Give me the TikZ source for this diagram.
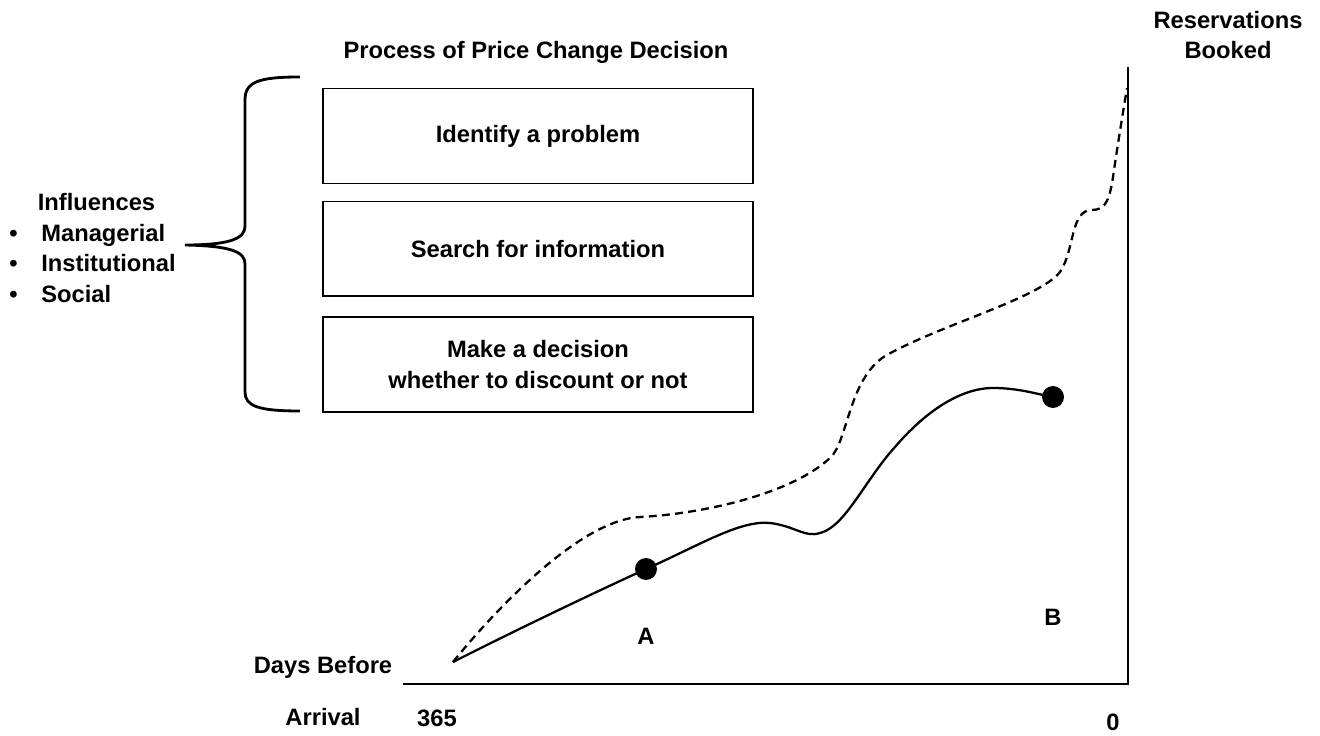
\documentclass[tikz,border=0pt]{standalone}
\usepackage{fontspec}
\setmainfont{Liberation Sans}
\usetikzlibrary{positioning}
\tikzstyle{stepbox} = [rectangle, minimum width=8.6cm, minimum height=1.9cm, text centered, align=center, draw=black, line width=1.1pt]
\tikzstyle{dot} = [circle, fill=black, minimum size=0.44cm, inner sep=0pt]
\tikzstyle{curve} = [line width=1.3pt]
\tikzstyle{axis} = [line width=1.2pt]

\begin{document}
\begin{tikzpicture}[x=0.02cm, y=-0.02cm, node distance=2.26cm, font=\fontsize{13.5}{17.5}\selectfont\bfseries]
    \useasboundingbox (0,0) rectangle (1320,736);
    \node (title) at (536,52) {Process of Price Change Decision};
    \node (identify) [stepbox] at (538,136) {Identify a problem};
    \node (search) [stepbox, below of=identify] {Search for information};
    \node (decide) [stepbox, below of=search, yshift=-0.05cm] {Make a decision\\whether to discount or not};

    \node (influences) [anchor=west, align=left, inner sep=0pt] at (9,248) {\makebox[1.2em][l]{}Influences\\\makebox[1.35em][l]{\textbullet}Managerial\\\makebox[1.35em][l]{\textbullet}Institutional\\\makebox[1.35em][l]{\textbullet}Social};
    \coordinate (tip) at (185,245);
    \draw [line width=1.6pt] (300,77) .. controls (258,77) and (245,82) .. (245,100) -- (245,226) .. controls (245,238) and (232,245) .. (tip) .. controls (232,246) and (245,252) .. (245,264) -- (245,392) .. controls (245,406) and (258,411) .. (300,411);

    \coordinate (origin) at (1128,684);
    \coordinate (start) at (453,662);
    \node (days) [align=center] at (323,691) {Days Before\\[12pt]Arrival};
    \node (booked) [align=center] at (1228,35) {Reservations\\Booked};
    \node (far) at (437,718) {365};
    \node (zero) at (1113,722) {0};
    \draw [axis] (403,684) -- (origin) -- (1128,67);

    \draw [curve, dash pattern=on 4.5pt off 3pt] (start) .. controls (495,610) and (580,520) .. (640,517) .. controls (700,514) and (790,495) .. (830,458) .. controls (848,442) and (848,380) .. (885,356) .. controls (940,325) and (1040,298) .. (1060,272) .. controls (1075,250) and (1070,210) .. (1092,210) .. controls (1106,210) and (1110,200) .. (1114,170) .. controls (1120,130) and (1125,100) .. (1127,88);
    \node (dotA) [dot] at (646,569) {};
    \node (dotB) [dot] at (1053,397) {};
    \draw [curve] (start) .. controls (520,628) and (600,590) .. (dotA.center) .. controls (700,545) and (740,520) .. (770,523) .. controls (795,526) and (805,538) .. (820,533) .. controls (845,527) and (865,480) .. (895,447) .. controls (925,412) and (960,388) .. (993,388) .. controls (1020,388) and (1040,395) .. (dotB.center);
    \node (labelA) at (646,636) {A};
    \node (labelB) at (1053,617) {B};
  \end{tikzpicture}
\end{document}
